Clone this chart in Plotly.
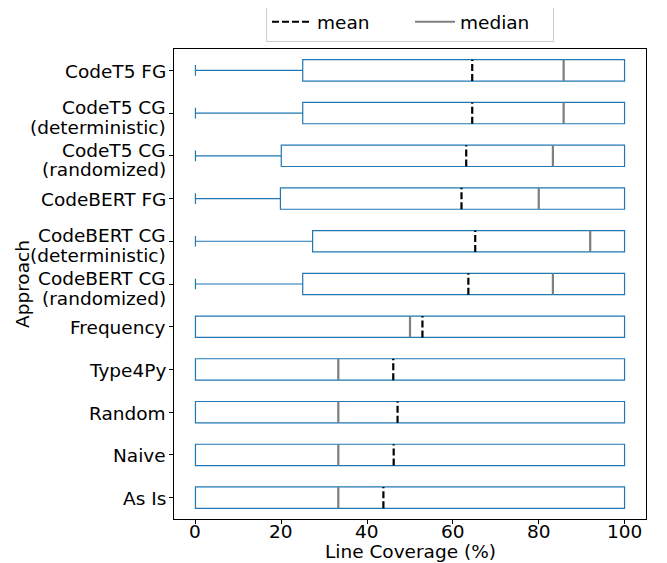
import plotly.graph_objects as go

# Data (bottom to top)
approaches = ["As Is", "Naive", "Random", "Type4Py", "Frequency",
              "CodeBERT CG\n(randomized)", "CodeBERT CG\n(deterministic)", "CodeBERT FG",
              "CodeT5 CG\n(randomized)", "CodeT5 CG\n(deterministic)", "CodeT5 FG"]
mins = [0, 0, 0, 0, 0, 0, 0, 0, 0, 0, 0]
q1s = [0, 0, 0, 0, 0, 25.0, 27.3, 19.8, 20.0, 25.0, 25.0]
medians = [33.3, 33.3, 33.3, 33.3, 50.0, 83.3, 92.0, 80.0, 83.3, 85.8, 85.8]
q3s = [100, 100, 100, 100, 100, 100, 100, 100, 100, 100, 100]
maxs = [100, 100, 100, 100, 100, 100, 100, 100, 100, 100, 100]
means = [43.8, 46.2, 47.1, 46.1, 52.9, 63.6, 65.2, 62.0, 63.1, 64.5, 64.5]
xticks = [0, 20, 40, 60, 80, 100]

positions = list(range(len(approaches)))
half = 0.25
FONT = "DejaVu Sans"
FS = 18.5
BLUE = "#1f77b4"

fig = go.Figure()
fig.add_trace(go.Box(
    orientation="h", y=positions, q1=q1s, median=medians, q3=q3s,
    lowerfence=mins, upperfence=maxs, width=0.5, whiskerwidth=0.5,
    line=dict(color=BLUE, width=1.2), fillcolor="rgba(255,255,255,0)",
    showlegend=False, hoverinfo="skip", boxpoints=False,
))

def seg(vals):
    xs, ys = [], []
    for p, v in zip(positions, vals):
        xs += [v, v, None]
        ys += [p - half, p + half, None]
    return xs, ys

mx, my = seg(medians)
fig.add_trace(go.Scatter(x=mx, y=my, mode="lines", name="median",
                         line=dict(color="#808080", width=2.2)))
ax, ay = seg(means)
fig.add_trace(go.Scatter(x=ax, y=ay, mode="lines", name="mean",
                         line=dict(color="black", width=2.2, dash="7px,3px")))

txtfont = dict(family=FONT, size=FS, color="black")
annotations = []
# y tick labels (tighter line spacing, like the reference)
for p, lab in zip(positions, approaches):
    lines = lab.split("\n")
    shifts = [-1] if len(lines) == 1 else [5.5, -14]
    for line, s in zip(lines, shifts):
        annotations.append(dict(text=line, x=0, xref="paper", y=p, yref="y",
                                xanchor="right", yanchor="middle", xshift=-6, yshift=s,
                                showarrow=False, font=txtfont))
# x tick labels
for t in xticks:
    annotations.append(dict(text=str(t), x=t, xref="x", y=0, yref="paper",
                            xanchor="center", yanchor="middle", yshift=-12,
                            showarrow=False, font=txtfont))
annotations.append(dict(text="Approach", x=0, xref="paper", y=0.5, yref="paper",
                        xanchor="center", yanchor="middle", xshift=-152, textangle=-90,
                        showarrow=False, font=txtfont))
annotations.append(dict(text="Line Coverage (%)", x=0.5, xref="paper", y=0, yref="paper",
                        xanchor="center", yanchor="middle", yshift=-32,
                        showarrow=False, font=txtfont))

# page body has an 8px margin: figure is 8px smaller so the plot lands where the reference has it
fig.update_layout(
    width=659, height=555,
    margin=dict(l=165.5, r=20.5, t=41.3, b=43.7, autoexpand=False),
    plot_bgcolor="white", paper_bgcolor="white",
    font=dict(family=FONT, size=FS, color="black"),
    annotations=annotations,
    legend=dict(orientation="h", x=0.5, xanchor="center", y=1.057, yanchor="middle",
                bordercolor="#cccccc", borderwidth=1, bgcolor="white",
                traceorder="reversed", font=dict(size=FS), itemwidth=40,
                entrywidth=88),
    xaxis=dict(range=[-5, 105], tickvals=xticks, showticklabels=False, automargin=False,
               showgrid=False, zeroline=False, showline=True, linecolor="black",
               mirror=True, ticks="outside", ticklen=4, tickcolor="black"),
    yaxis=dict(range=[-0.5, 10.5], tickvals=positions, showticklabels=False,
               automargin=False,
               showgrid=False, zeroline=False, showline=True, linecolor="black",
               mirror=True, ticks="outside", ticklen=4, tickcolor="black"),
)

fig.write_html("out.html")
